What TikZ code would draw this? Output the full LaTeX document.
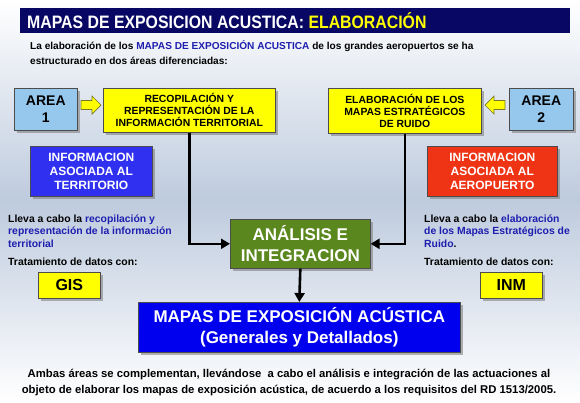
\documentclass[tikz,border=0pt]{standalone}
\usepackage{fontspec}
\setmainfont{Liberation Sans}
\newfontfamily\titlefont{Liberation Sans}[FakeStretch=0.88]
\usetikzlibrary{shadows,arrows.meta}
\definecolor{navy}{RGB}{8,8,100}
\definecolor{titleyellow}{RGB}{255,255,0}
\definecolor{boxyellow}{RGB}{255,255,0}
\definecolor{areablue}{RGB}{150,200,238}
\definecolor{infoblue}{RGB}{48,48,240}
\definecolor{inforeed}{RGB}{238,52,20}
\definecolor{greenbox}{RGB}{90,135,30}
\definecolor{bigblue}{RGB}{0,0,238}
\definecolor{txtblue}{RGB}{30,30,175}
\definecolor{skymid}{RGB}{190,203,222}
\definecolor{arrowedge}{RGB}{120,120,40}
\begin{document}
\begin{tikzpicture}[x=1pt,y=-1pt,font=\bfseries,
  box/.style={draw=black!70,line width=0.6pt,align=center,inner sep=0pt,anchor=north west,
    drop shadow={shadow xshift=2.5pt,shadow yshift=-2.5pt,fill=black!50,opacity=0.6}},
  ybox/.style={box,fill=boxyellow,text=black},
  abox/.style={box,fill=areablue,text=black,font=\fontsize{14}{17}\selectfont\bfseries},
  ibox/.style={box,text=white,font=\fontsize{12}{14}\selectfont\bfseries},
  yarrow/.style={draw=arrowedge,fill=boxyellow,line width=0.7pt,line join=miter},
  conn/.style={line width=2.6pt,-{Triangle[length=9pt,width=10pt]}},
  para/.style={anchor=base west,inner sep=0pt,font=\fontsize{10.4}{12.5}\selectfont\bfseries},
  intro/.style={anchor=base west,inner sep=0pt,font=\fontsize{10.1}{15}\selectfont\bfseries},
]
\useasboundingbox (0,0) rectangle (580,402);
\shade[top color=white,bottom color=skymid] (0,0) rectangle (580,200);
\shade[top color=skymid,bottom color=white] (0,200) rectangle (580,402);
% title
\node[anchor=north west,fill=navy,minimum width=550pt,minimum height=25pt,inner sep=0pt] (titlebar) at (20,8) {};
\node[anchor=west,text=white,inner sep=0pt,font=\titlefont\fontsize{18}{20}\selectfont\bfseries] (title) at (27,20.5)
  {MAPAS DE EXPOSICION ACUSTICA: \textcolor{titleyellow}{ELABORACIÓN}};
\node[intro] (intro1) at (30,49)
  {La elaboración de los \textcolor{txtblue}{MAPAS DE EXPOSICIÓN ACUSTICA} de los grandes aeropuertos se ha};
\node[intro] (intro2) at (30,64) {estructurado en dos áreas diferenciadas:};
% area boxes
\node[abox,minimum width=63pt,minimum height=42pt] (area1) at (14,88) {AREA\\1};
\node[abox,minimum width=64pt,minimum height=42pt] (area2) at (509,88) {AREA\\2};
\node[ybox,minimum width=172pt,minimum height=44pt,font=\fontsize{10.4}{12}\selectfont\bfseries] (y1) at (103,88)
  {RECOPILACIÓN Y\\REPRESENTACIÓN DE LA\\INFORMACIÓN TERRITORIAL};
\node[ybox,minimum width=153pt,minimum height=45pt,font=\fontsize{10.4}{12}\selectfont\bfseries] (y2) at (328,88)
  {ELABORACIÓN DE LOS\\MAPAS ESTRATÉGICOS\\DE RUIDO};
% block arrows
\draw[yarrow] (81,100.5) -- (92,100.5) -- (92,96) -- (101,105) -- (92,114) -- (92,109.5) -- (81,109.5) -- cycle;
\draw[yarrow] (505,100.5) -- (494,100.5) -- (494,96) -- (485,105) -- (494,114) -- (494,109.5) -- (505,109.5) -- cycle;
% info boxes
\node[ibox,fill=infoblue,minimum width=122pt,minimum height=50pt] (info1) at (30,146)
  {INFORMACION\\ASOCIADA AL\\TERRITORIO};
\node[ibox,fill=inforeed,minimum width=130pt,minimum height=50pt] (info2) at (427,146)
  {INFORMACION\\ASOCIADA AL\\AEROPUERTO};
% green box
\node[box,fill=greenbox,text=white,minimum width=140pt,minimum height=49pt,
  font=\fontsize{17}{21}\selectfont\bfseries] (green) at (230,219) {ANÁLISIS E\\INTEGRACION};
% big blue
\node[box,fill=bigblue,text=white,minimum width=322pt,minimum height=50pt,
  font=\fontsize{17}{21}\selectfont\bfseries] (result) at (138,302)
  {MAPAS DE EXPOSICIÓN ACÚSTICA\\(Generales y Detallados)};
% connectors
\draw[conn] (y1.south) |- (green.west);
\draw[conn] (y2.south) |- (green.east);
\draw[conn] (green.south) -- (result.north);
% side texts
\node[para] (left1) at (8,222) {Lleva a cabo la \textcolor{txtblue}{recopilación y}};
\node[para] (left2) at (8,234.5) {\textcolor{txtblue}{representación de la información}};
\node[para] (left3) at (8,247) {\textcolor{txtblue}{territorial}};
\node[para] (lefttr) at (8,265) {Tratamiento de datos con:};
\node[para] (right1) at (424,222) {Lleva a cabo la \textcolor{txtblue}{elaboración}};
\node[para] (right2) at (424,234.5) {\textcolor{txtblue}{de los Mapas Estratégicos de}};
\node[para] (right3) at (424,247) {\textcolor{txtblue}{Ruido}.};
\node[para] (righttr) at (424,265) {Tratamiento de datos con:};
\node[ybox,minimum width=62pt,minimum height=26pt,font=\fontsize{16}{18}\selectfont\bfseries] (gis) at (38,272) {GIS};
\node[ybox,minimum width=62pt,minimum height=26pt,font=\fontsize{16}{18}\selectfont\bfseries] (inm) at (480,272) {INM};
% bottom
\node[align=center,inner sep=0pt,font=\fontsize{11.3}{16}\selectfont\bfseries] (bottom) at (289,383)
  {Ambas áreas se complementan, llevándose\ \ a cabo el análisis e integración de las actuaciones al\\
   objeto de elaborar los mapas de exposición acústica, de acuerdo a los requisitos del RD 1513/2005.};
\end{tikzpicture}
\end{document}
